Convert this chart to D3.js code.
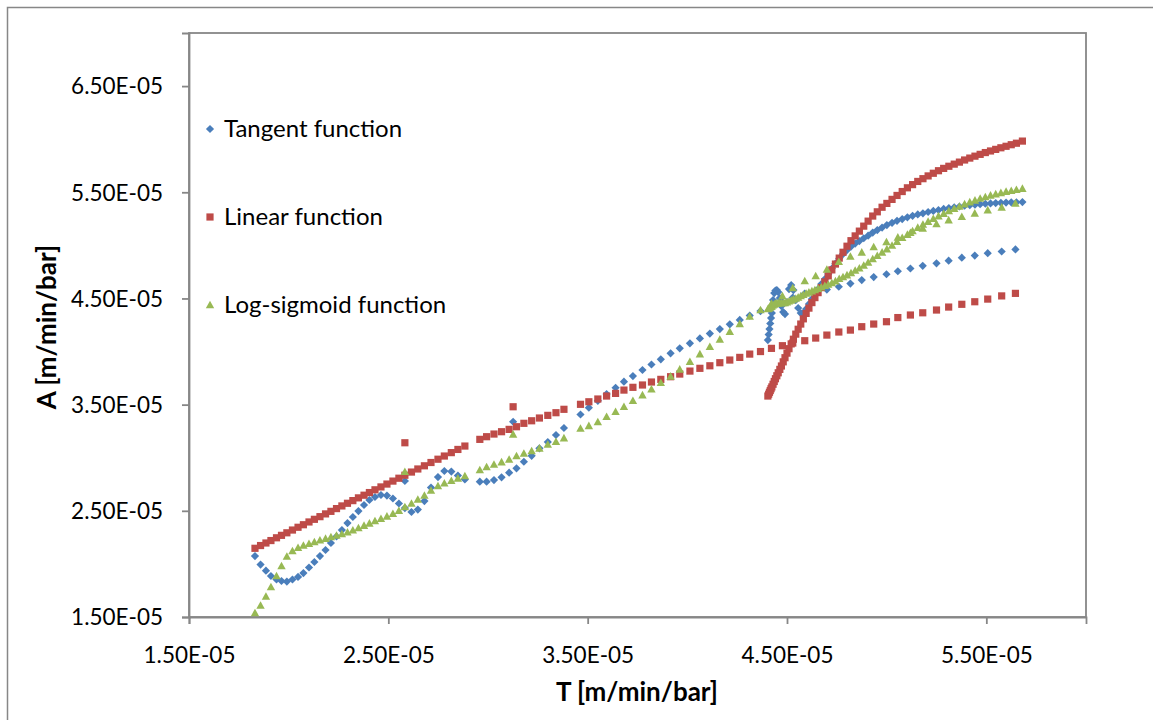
<!DOCTYPE html>
<html>
<head>
<meta charset="utf-8">
<script src="https://cdn.jsdelivr.net/npm/d3@7"></script>
<style>
  body { margin: 0; background: #fff; }
  text { font-family: Lato, "Open Sans", sans-serif; fill: #000; }
</style>
</head>
<body>
<svg id="chart" width="1153" height="720"></svg>
<script>
// Values are in units of 1E-05 (m/min/bar).
const xTicks = [1.5, 2.5, 3.5, 4.5, 5.5];
const yTicks = [1.5, 2.5, 3.5, 4.5, 5.5, 6.5];
const seriesNames = ["Tangent function", "Linear function", "Log-sigmoid function"];

// Coarse sweep over the whole T range (shared by all three functions)
const sparseT = [
  1.831, 1.859, 1.886, 1.911, 1.939, 1.964, 1.991, 2.019, 2.047, 2.074,
  2.102, 2.129, 2.157, 2.185, 2.212, 2.240, 2.267, 2.295, 2.322, 2.350,
  2.378, 2.405, 2.433, 2.463, 2.493, 2.523, 2.553, 2.583, 2.616, 2.648,
  2.681, 2.714, 2.749, 2.781, 2.816, 2.849, 2.884,
  2.959, 2.993, 3.030, 3.068, 3.106, 3.143, 3.180, 3.219, 3.258, 3.300, 3.341, 3.381,
  3.464, 3.506, 3.551, 3.595, 3.640, 3.682, 3.727, 3.775, 3.820, 3.867,
  3.916, 3.962, 4.013, 4.063, 4.113, 4.163, 4.213, 4.263, 4.313, 4.367,
  4.422, 4.477, 4.529, 4.589, 4.644, 4.700, 4.760, 4.818, 4.875, 4.935,
  4.999, 5.056, 5.119, 5.181, 5.250, 5.311, 5.377, 5.442, 5.507, 5.577, 5.646,
  2.583, 3.126
];
const tangentSparse = [
  2.074, 1.994, 1.936, 1.886, 1.853, 1.839, 1.834, 1.853, 1.877, 1.914,
  1.966, 2.018, 2.074, 2.131, 2.197, 2.258, 2.319, 2.385, 2.442, 2.498,
  2.555, 2.602, 2.630, 2.649, 2.644, 2.616, 2.569, 2.526, 2.489, 2.512,
  2.592, 2.719, 2.818, 2.875, 2.870, 2.832, 2.795,
  2.774, 2.774, 2.790, 2.815, 2.859, 2.900, 2.962, 3.018, 3.089, 3.148, 3.214, 3.280,
  3.407, 3.471, 3.536, 3.600, 3.659, 3.716, 3.769, 3.826, 3.878, 3.927,
  3.983, 4.030, 4.077, 4.124, 4.169, 4.212, 4.256, 4.298, 4.339, 4.381,
  4.424, 4.466, 4.508, 4.546, 4.570, 4.584, 4.610, 4.640, 4.673, 4.701,
  4.728, 4.756, 4.782, 4.807, 4.831, 4.856, 4.884, 4.904, 4.926, 4.942, 4.962,
  2.781, 3.339
];
const linearSparse = [
  2.147, 2.173, 2.197, 2.220, 2.246, 2.269, 2.293, 2.319, 2.345, 2.369,
  2.395, 2.420, 2.445, 2.471, 2.495, 2.521, 2.546, 2.571, 2.596, 2.622,
  2.647, 2.672, 2.698, 2.725, 2.752, 2.780, 2.807, 2.835, 2.865, 2.894,
  2.924, 2.955, 2.986, 3.016, 3.048, 3.078, 3.110,
  3.173, 3.198, 3.223, 3.245, 3.267, 3.292, 3.324, 3.348, 3.374, 3.399, 3.424, 3.456,
  3.503, 3.527, 3.553, 3.581, 3.606, 3.637, 3.663, 3.685, 3.713, 3.738,
  3.763, 3.788, 3.816, 3.842, 3.866, 3.895, 3.920, 3.945, 3.976, 4.000,
  4.030, 4.055, 4.080, 4.102, 4.127, 4.155, 4.184, 4.202, 4.234, 4.259,
  4.281, 4.320, 4.344, 4.365, 4.391, 4.419, 4.445, 4.469, 4.494, 4.524, 4.548,
  3.141, 3.480
];
const logsigSparse = [
  1.538, 1.608, 1.693, 1.782, 1.886, 1.980, 2.070, 2.121, 2.152, 2.173,
  2.190, 2.206, 2.223, 2.238, 2.253, 2.267, 2.282, 2.298, 2.317, 2.338,
  2.361, 2.382, 2.404, 2.425, 2.448, 2.472, 2.501, 2.536, 2.569, 2.606,
  2.644, 2.691, 2.734, 2.759, 2.783, 2.806, 2.828,
  2.884, 2.912, 2.936, 2.959, 2.983, 3.016, 3.040, 3.063, 3.088, 3.124, 3.151, 3.185,
  3.275, 3.300, 3.336, 3.386, 3.433, 3.480, 3.536, 3.590, 3.645, 3.706,
  3.766, 3.832, 3.904, 3.976, 4.045, 4.113, 4.186, 4.261, 4.330, 4.391,
  4.452, 4.523, 4.598, 4.664, 4.711, 4.772, 4.846, 4.895, 4.934, 4.984,
  5.031, 5.075, 5.119, 5.160, 5.201, 5.238, 5.269, 5.301, 5.332, 5.358, 5.395,
  2.868, 3.220
];

// Fine sweep over the upper T range
const denseT = [
  4.404, 4.408, 4.412, 4.416, 4.420, 4.424, 4.430, 4.436, 4.442, 4.449,
  4.456, 4.464, 4.472, 4.481, 4.490, 4.500, 4.510, 4.521, 4.532, 4.544,
  4.556, 4.569, 4.582, 4.596, 4.610, 4.625, 4.640, 4.656, 4.672, 4.690,
  4.707, 4.725, 4.743, 4.762, 4.781, 4.801, 4.821, 4.842, 4.863, 4.885,
  4.907, 4.930, 4.953, 4.977, 5.001, 5.027, 5.052, 5.078, 5.104, 5.130,
  5.156, 5.182, 5.208, 5.234, 5.260, 5.286, 5.312, 5.339, 5.365, 5.391,
  5.417, 5.443, 5.469, 5.495, 5.521, 5.547, 5.573, 5.599, 5.625, 5.651, 5.681
];
const tangentDense = [
  4.108, 4.160, 4.212, 4.264, 4.315, 4.362, 4.485, 4.551, 4.574, 4.579,
  4.560, 4.504, 4.428, 4.372, 4.353, 4.466, 4.588, 4.626, 4.579, 4.485,
  4.410, 4.362, 4.362, 4.400, 4.447, 4.494, 4.541, 4.588, 4.636, 4.683,
  4.730, 4.781, 4.829, 4.876, 4.918, 4.956, 4.989, 5.017, 5.040, 5.067,
  5.091, 5.120, 5.144, 5.168, 5.191, 5.212, 5.231, 5.248, 5.264, 5.278,
  5.291, 5.302, 5.314, 5.324, 5.333, 5.343, 5.351, 5.359, 5.366, 5.373,
  5.378, 5.383, 5.388, 5.392, 5.395, 5.398, 5.401, 5.403, 5.405, 5.406, 5.408
];
const linearDense = [
  3.581, 3.598, 3.616, 3.633, 3.650, 3.667, 3.692, 3.718, 3.744, 3.772,
  3.800, 3.832, 3.864, 3.903, 3.942, 3.985, 4.027, 4.072, 4.116, 4.164,
  4.210, 4.259, 4.308, 4.359, 4.409, 4.461, 4.508, 4.555, 4.602, 4.656,
  4.713, 4.769, 4.824, 4.880, 4.935, 4.992, 5.044, 5.089, 5.134, 5.181,
  5.228, 5.276, 5.316, 5.359, 5.395, 5.433, 5.470, 5.507, 5.542, 5.572,
  5.602, 5.628, 5.654, 5.679, 5.703, 5.725, 5.745, 5.765, 5.784, 5.804,
  5.822, 5.840, 5.857, 5.874, 5.889, 5.904, 5.919, 5.933, 5.948, 5.962, 5.982
];
const logsigDense = [
  4.400, 4.406, 4.411, 4.417, 4.423, 4.428, 4.436, 4.444, 4.451, 4.454,
  4.456, 4.457, 4.457, 4.457, 4.458, 4.465, 4.473, 4.482, 4.491, 4.499,
  4.510, 4.523, 4.535, 4.546, 4.557, 4.569, 4.580, 4.593, 4.605, 4.619,
  4.632, 4.646, 4.663, 4.685, 4.702, 4.720, 4.740, 4.763, 4.784, 4.811,
  4.838, 4.871, 4.902, 4.934, 4.965, 4.999, 5.035, 5.071, 5.101, 5.135,
  5.167, 5.197, 5.224, 5.251, 5.275, 5.299, 5.323, 5.346, 5.366, 5.388,
  5.407, 5.424, 5.441, 5.456, 5.471, 5.483, 5.494, 5.506, 5.515, 5.524, 5.534
];

const colors = ["#4A7EBB", "#BE4B48", "#98B954"];
const markerPaths = [
  "M0,-4.1L4.1,0L0,4.1L-4.1,0Z",            // diamond
  "M-3.6,-3.6L3.6,-3.6L3.6,3.6L-3.6,3.6Z",  // square
  "M0,-4.3L4.2,3.3L-4.2,3.3Z"               // triangle
];

const svg = d3.select("#chart");
const plot = { left: 189, right: 1086, top: 33, bottom: 617 };

const x = d3.scaleLinear().domain([1.5, 6.0]).range([plot.left, plot.right]);
const y = d3.scaleLinear().domain([1.5, 7.0]).range([plot.bottom, plot.top]);
const fmt = d => d.toFixed(2) + "E-05";
const gridGray = "#878787";

// chart frame
svg.append("rect")
  .attr("x", 7.5).attr("y", 7.5).attr("width", 1200).attr("height", 760)
  .attr("fill", "#fff").attr("stroke", gridGray).attr("stroke-width", 1.5);

// plot area
svg.append("rect")
  .attr("x", plot.left).attr("y", plot.top)
  .attr("width", plot.right - plot.left).attr("height", plot.bottom - plot.top)
  .attr("fill", "#fff").attr("stroke", gridGray).attr("stroke-width", 1.8);

// axes
const xAxis = svg.append("g")
  .attr("transform", `translate(0,${plot.bottom})`)
  .call(d3.axisBottom(x).tickValues(xTicks).tickSize(7).tickFormat(fmt));
const yAxis = svg.append("g")
  .attr("transform", `translate(${plot.left},0)`)
  .call(d3.axisLeft(y).tickValues(yTicks).tickSize(7).tickFormat(fmt));

[xAxis, yAxis].forEach(g => {
  g.select(".domain").attr("stroke", gridGray).attr("stroke-width", 1.8);
  g.selectAll(".tick line").attr("stroke", gridGray).attr("stroke-width", 1.8);
  g.selectAll(".tick text").attr("font-size", 22.5).attr("fill", "#000")
    .style("font-family", "Lato, sans-serif");
});
xAxis.selectAll(".tick text").attr("y", 38).attr("dy", "0.35em");
yAxis.selectAll(".tick text").attr("x", -26).attr("dy", "0.35em");

// axis titles
svg.append("text")
  .attr("x", 637).attr("y", 692)
  .attr("text-anchor", "middle").attr("dy", "0.35em")
  .attr("font-size", 26).attr("font-weight", "bold")
  .text("T [m/min/bar]");
svg.append("text")
  .attr("transform", "translate(47,327) rotate(-90)")
  .attr("text-anchor", "middle").attr("dy", "0.35em")
  .attr("font-size", 26).attr("font-weight", "bold")
  .text("A [m/min/bar]");

// markers, drawn series by series
const series = [
  { sparse: tangentSparse, dense: tangentDense },
  { sparse: linearSparse, dense: linearDense },
  { sparse: logsigSparse, dense: logsigDense }
];
svg.append("clipPath").attr("id", "plotClip")
  .append("rect").attr("x", plot.left - 6).attr("y", plot.top)
  .attr("width", plot.right - plot.left + 6).attr("height", plot.bottom - plot.top + 6);

const marks = svg.append("g").attr("clip-path", "url(#plotClip)");
series.forEach((s, i) => {
  const pts = sparseT.map((t, k) => [t, s.sparse[k]])
    .concat(denseT.map((t, k) => [t, s.dense[k]]));
  marks.append("g").selectAll("path")
    .data(pts)
    .join("path")
    .attr("d", markerPaths[i])
    .attr("transform", d => `translate(${x(d[0])},${y(d[1])})`)
    .attr("fill", colors[i]);
});

// legend
const legendY = [129, 217, 305];
seriesNames.forEach((name, i) => {
  const g = svg.append("g").attr("transform", `translate(210,${legendY[i]})`);
  g.append("path").attr("d", markerPaths[i]).attr("fill", colors[i]);
  g.append("text").attr("x", 14).attr("dy", "0.35em")
    .attr("font-size", 24).text(name);
});
</script>
</body>
</html>
